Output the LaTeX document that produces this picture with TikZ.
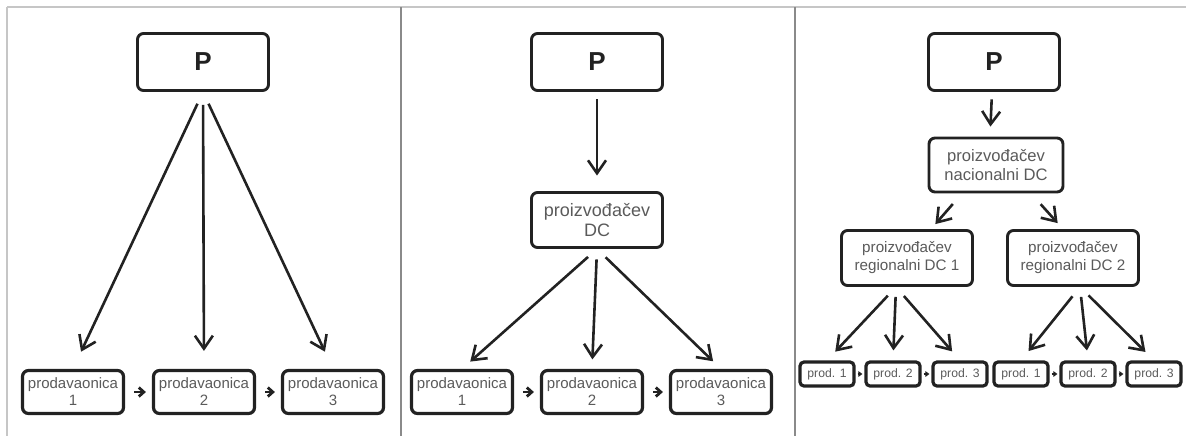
\documentclass[tikz,border=0pt]{standalone}
\usepackage{fontspec}
\setmainfont{Liberation Sans}
\usepackage{tikz}
\usetikzlibrary{arrows.meta}
\definecolor{txtgray}{HTML}{5A5A5A}
\definecolor{boxline}{HTML}{222222}
\definecolor{framegray}{HTML}{C6C6C6}
\definecolor{divgray}{HTML}{8A8A8A}
\tikzset{>={Straight Barb[length=6.5pt,width=9pt]}}
\tikzset{box/.style = {draw=boxline, rounded corners=3pt, line width=1.45pt,
align=center, inner sep=0pt, text=txtgray}}
\tikzset{pbox/.style = {box, minimum width=65.5pt, minimum height=28.5pt,
text=boxline, font=\bfseries\fontsize{13}{13}\selectfont}}
\tikzset{dcbox/.style = {box, minimum width=65.5pt, minimum height=27.5pt,
font=\fontsize{8.3}{9.3}\selectfont}}
\tikzset{shop/.style = {box, line width=1.6pt, minimum width=50.5pt,
minimum height=21.5pt, font=\fontsize{7.5}{8.5}\selectfont}}
\tikzset{prod/.style = {box, line width=1.6pt, rounded corners=2pt, minimum width=27pt,
minimum height=12pt, font=\fontsize{6.1}{6.1}\selectfont}}
\tikzset{arr/.style = {->, draw=boxline, line width=1.3pt}}
\tikzset{step arr/.style = {-{Straight Barb[length=2.5pt,width=4.5pt]}, draw=boxline, line width=1.4pt,
shorten <=4.5pt, shorten >=3pt}}
\tikzset{tiny arr/.style = {-{Triangle[length=2pt,width=2.8pt]}, draw=boxline, line width=0.7pt,
shorten <=1pt, shorten >=1pt}}

\begin{document}
\begin{tikzpicture}[x=0.5pt, y=-0.5pt]
                \useasboundingbox (0,0) rectangle (1186,436);
                \draw[framegray, line width=1pt] (7,7) -- (1186,7);
                \draw[framegray, line width=1pt] (7,7) -- (7,436);
                \draw[divgray, line width=1pt] (401,7) -- (401,436);
                \draw[divgray, line width=1pt] (795,7) -- (795,436);

                \node[pbox] (P1) at (203,62) {P};
                \node[shop] (S11) at (73,392) {prodavaonica\\1};
                \node[shop] (S12) at (204,392) {prodavaonica\\2};
                \node[shop] (S13) at (333,392) {prodavaonica\\3};

                \draw[arr, shorten <=6.5pt, shorten >=9.5pt] (P1.south) -- (S11.north);
                \draw[arr, shorten <=6.5pt, shorten >=9pt] (P1.south) -- (S12.north);
                \draw[arr, shorten <=6.5pt, shorten >=9.5pt] (P1.south) -- (S13.north);
                \draw[step arr] (S11) -- (S12);
                \draw[step arr] (S12) -- (S13);

                \node[pbox] (P2) at (597,62) {P};
                \node[dcbox, font=\fontsize{9}{9.6}\selectfont] (D2) at (597,220) {proizvođačev\\DC};
                \node[shop] (S21) at (462,392) {prodavaonica\\1};
                \node[shop] (S22) at (592,392) {prodavaonica\\2};
                \node[shop] (S23) at (721,392) {prodavaonica\\3};

                \draw[arr, shorten <=3.75pt, shorten >=7.75pt] (P2.south) -- (D2.north);
                \draw[arr, shorten <=6pt, shorten >=5.5pt] (D2.south) -- (S21.north);
                \draw[arr, shorten <=5.25pt, shorten >=4.75pt] (D2.south) -- (S22.north);
                \draw[arr, shorten <=6pt, shorten >=5.5pt] (D2.south) -- (S23.north);
                \draw[step arr] (S21) -- (S22);
                \draw[step arr] (S22) -- (S23);

                \node[pbox] (P3) at (994,62) {P};
                \node[dcbox, minimum width=67pt, minimum height=27pt] (N3) at (996,165) {proizvođačev\\nacionalni DC};
                \node[dcbox, font=\fontsize{7.6}{9}\selectfont] (R1) at (907,258) {proizvođačev\\regionalni DC 1};
                \node[dcbox, font=\fontsize{7.6}{9}\selectfont] (R2) at (1073,258) {proizvođačev\\regionalni DC 2};
                \node[prod] (Q1) at (827,374) {prod. 1};
                \node[prod] (Q2) at (893,374) {prod. 2};
                \node[prod] (Q3) at (960,374) {prod. 3};
                \node[prod] (Q4) at (1021,374) {prod. 1};
                \node[prod] (Q5) at (1088,374) {prod. 2};
                \node[prod] (Q6) at (1154,374) {prod. 3};

                \draw[arr, shorten <=3.75pt, shorten >=5pt] ([xshift=-1pt]P3.south) -- ([xshift=-3pt]N3.north);
                \draw[arr, shorten <=7pt, shorten >=3.3pt] ([xshift=-17pt]N3.south) -- ([xshift=12pt]R1.north);
                \draw[arr, shorten <=7.2pt, shorten >=4pt] ([xshift=17.5pt]N3.south) -- ([xshift=-5pt]R2.north);
                \draw[arr, shorten <=6pt, shorten >=6pt] ([xshift=-5.5pt]R1.south) -- (Q1.north);
                \draw[arr, shorten <=5pt, shorten >=5pt] ([xshift=-5.5pt]R1.south) -- (Q2.north);
                \draw[arr, shorten <=6pt, shorten >=6pt] ([xshift=-5.5pt]R1.south) -- (Q3.north);
                \draw[arr, shorten <=6pt, shorten >=6pt] ([xshift=3.5pt]R2.south) -- (Q4.north);
                \draw[arr, shorten <=5pt, shorten >=5pt] ([xshift=3.5pt]R2.south) -- (Q5.north);
                \draw[arr, shorten <=6pt, shorten >=6pt] ([xshift=3.5pt]R2.south) -- (Q6.north);
                \draw[tiny arr] (Q1) -- (Q2);
                \draw[tiny arr] (Q2) -- (Q3);
                \draw[tiny arr] (Q4) -- (Q5);
                \draw[tiny arr] (Q5) -- (Q6);
            \end{tikzpicture}
\end{document}
